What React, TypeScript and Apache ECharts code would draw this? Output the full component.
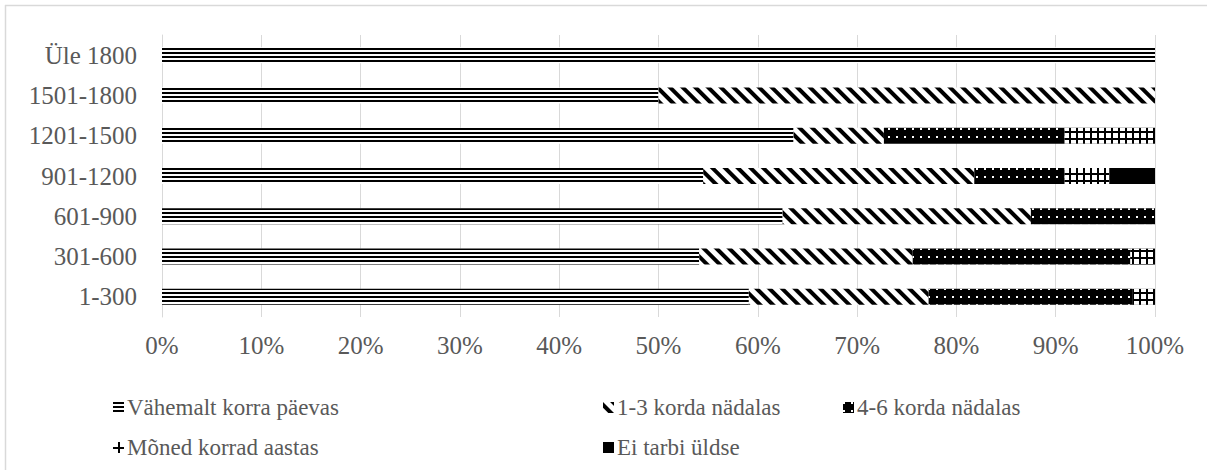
import React, { useEffect, useRef } from "react";
import * as echarts from "echarts";

const categories = ["Üle 1800", "1501-1800", "1201-1500", "901-1200", "601-900", "301-600", "1-300"];
const seriesNames = [
  "Vähemalt korra päevas",
  "1-3 korda nädalas",
  "4-6 korda nädalas",
  "Mõned korrad aastas",
  "Ei tarbi üldse",
];
const dailyValues = [100, 50, 63.6, 54.5, 62.5, 54.1, 59.1];
const weekly13Values = [0, 50, 9.1, 27.3, 25.0, 21.5, 18.1];
const weekly46Values = [0, 0, 18.2, 9.1, 12.5, 21.9, 20.5];
const yearlyValues = [0, 0, 9.1, 4.5, 0, 2.5, 2.3];
const neverValues = [0, 0, 0, 4.6, 0, 0, 0];
const xTicks = [0, 10, 20, 30, 40, 50, 60, 70, 80, 90, 100];

const FONT = "'Liberation Serif', 'Times New Roman', serif";
const TEXT = "#595959";
const GRID = "#d9d9d9";

const barColors = ["#fff", "#fff", "#000", "#000", "#000"];
const decals: any[] = [
  { symbol: "rect", symbolSize: 1, color: "#000", dashArrayX: [1, 0], dashArrayY: [2, 2], rotation: 0 },
  { symbol: "rect", symbolSize: 1, color: "#000", dashArrayX: [1, 0], dashArrayY: [4, 5], rotation: Math.PI / 4 },
  { symbol: "rect", symbolSize: 1, color: "#fff", dashArrayX: [2, 6], dashArrayY: [2, 6], rotation: 0 },
  { symbol: "rect", symbolSize: 1, color: "#fff", dashArrayX: [5, 2], dashArrayY: [5, 2], rotation: 0 },
  null,
];

export default function App() {
  const ref = useRef<HTMLDivElement>(null);
  useEffect(() => {
    if (!ref.current) return;
    const chart = echarts.init(ref.current, null, { renderer: "svg" });
    const allData = [dailyValues, weekly13Values, weekly46Values, yearlyValues, neverValues];
    const legendBase = {
      orient: "vertical",
      top: 396,
      padding: 0,
      itemWidth: 11,
      itemHeight: 11,
      itemGap: 17,
      icon: "rect",
      selectedMode: false,
      textStyle: { fontFamily: FONT, fontSize: 23, color: TEXT, lineHeight: 23, padding: [0, 0, 0, -2] },
    };
    chart.setOption({
      animation: false,
      backgroundColor: "#fff",
      textStyle: { fontFamily: FONT },
      grid: { left: 162, right: 52, top: 35, bottom: 158, containLabel: false },
      xAxis: {
        type: "value",
        min: 0,
        max: 100,
        interval: 10,
        axisLine: { show: false },
        axisTick: { show: false },
        splitLine: { show: true, lineStyle: { color: GRID, width: 1 } },
        axisLabel: {
          formatter: (v: number) => (xTicks.includes(v) ? v + "%" : ""),
          fontFamily: FONT,
          fontSize: 25,
          color: TEXT,
          margin: 16,
        },
      },
      yAxis: {
        type: "category",
        data: categories,
        inverse: true,
        axisLine: { show: true, lineStyle: { color: GRID, width: 1 } },
        axisTick: { show: false },
        axisLabel: { fontFamily: FONT, fontSize: 25, color: TEXT, margin: 25 },
      },
      legend: [
        { ...legendBase, left: 113, data: [seriesNames[0], seriesNames[3]] },
        { ...legendBase, left: 603, data: [seriesNames[1], seriesNames[4]] },
        { ...legendBase, left: 843, data: [seriesNames[2]] },
      ],
      graphic: [
        { type: "line", shape: { x1: 5, y1: 5.5, x2: 1207, y2: 5.5 }, style: { stroke: GRID, lineWidth: 1.5 } },
        { type: "line", shape: { x1: 5.5, y1: 5, x2: 5.5, y2: 470 }, style: { stroke: GRID, lineWidth: 1.5 } },
      ],
      series: seriesNames.map((name, i) => ({
        name,
        type: "bar",
        stack: "total",
        barWidth: 16,
        data: allData[i],
        itemStyle: decals[i] ? { color: barColors[i], decal: decals[i] } : { color: barColors[i] },
        emphasis: { disabled: true },
      })),
    });
    return () => chart.dispose();
  }, []);
  return (
    <div
      ref={ref}
      style={{ position: "absolute", left: 0, top: 0, width: 1207, height: 475, background: "#fff" }}
    />
  );
}
